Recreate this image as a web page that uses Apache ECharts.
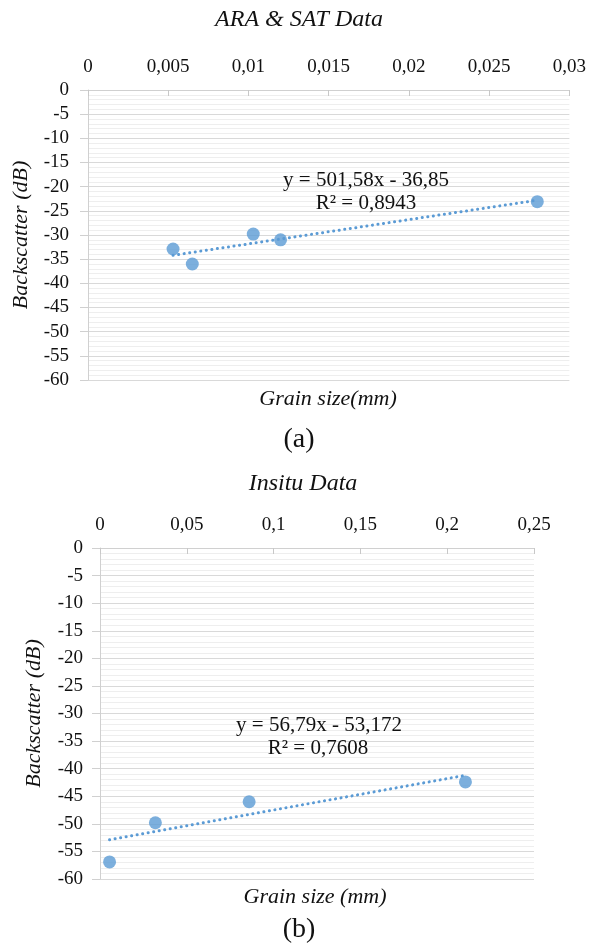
<!DOCTYPE html>
<html>
<head>
<meta charset="utf-8">
<script src="https://cdn.jsdelivr.net/npm/echarts@6/dist/echarts.min.js"></script>
<style>
html,body{margin:0;padding:0;background:#fff;}
#c{width:589px;height:947px;}
</style>
</head>
<body>
<div id="c"></div>
<script>
// ---- Data ----
const topTitle = 'ARA & SAT Data';
const botTitle = 'Insitu Data';
const topGrain = [0.0053, 0.0065, 0.0103, 0.0120, 0.0280];
const topBackscatter = [-32.9, -36.0, -29.8, -31.0, -23.1];
const topTrendX = [0.0053, 0.0280];
const topTrendY = [-34.2, -22.8];
const topEquation = ['y = 501,58x - 36,85', 'R² = 0,8943'];

const botGrain = [0.0055, 0.0319, 0.0859, 0.2105];
const botBackscatter = [-56.9, -49.8, -46.0, -42.4];
const botTrendX = [0.0055, 0.2105];
const botTrendY = [-52.9, -41.2];
const botEquation = ['y = 56,79x - 53,172', 'R² = 0,7608'];

const topXTicks = {min: 0, max: 0.03, interval: 0.005};
const botXTicks = {min: 0, max: 0.25, interval: 0.05};
const yTicks = {min: -60, max: 0, interval: 5};

const serif = '"Liberation Serif", "Times New Roman", serif';
const blue = '#5B9BD5';
const txt = '#111';

function zip(a, b) { return a.map((v, i) => [v, b[i]]); }
function fmt(v) { return String(+v.toFixed(4)).replace('.', ','); }

function xAxis(gi, t) {
  return {
    type: 'value', gridIndex: gi, position: 'top',
    min: t.min, max: t.max, interval: t.interval,
    axisLine: {show: true, onZero: false, lineStyle: {color: '#d0d0d0', width: 1}},
    axisTick: {show: true, inside: true, length: 6, lineStyle: {color: '#c8c8c8'}},
    axisLabel: {formatter: fmt, fontFamily: serif, fontSize: 19, color: txt, margin: 13},
    splitLine: {show: false}
  };
}
function yAxis(gi, gap, margin) {
  return {
    type: 'value', gridIndex: gi,
    min: yTicks.min, max: yTicks.max, interval: yTicks.interval,
    name: 'Backscatter (dB)', nameLocation: 'middle', nameRotate: 90, nameGap: gap,
    nameTextStyle: {fontFamily: serif, fontStyle: 'italic', fontSize: 22, color: txt},
    axisLine: {show: true, onZero: false, lineStyle: {color: '#d0d0d0', width: 1}},
    axisTick: {show: true, inside: false, length: 8, lineStyle: {color: '#d0d0d0'}},
    axisLabel: {fontFamily: serif, fontSize: 19, color: txt, margin: margin},
    splitLine: {show: true, lineStyle: {color: '#d9d9d9', width: 1}},
    minorTick: {show: false, splitNumber: 5},
    minorSplitLine: {show: true, lineStyle: {color: '#eeeeee', width: 1}}
  };
}
function label(x, y, text, font) {
  return {type: 'text', x: x, y: y, z: 100,
    style: {text: text, font: font, fill: txt, textAlign: 'center', textVerticalAlign: 'middle'}};
}

const chart = echarts.init(document.getElementById('c'), null, {renderer: 'canvas'});
chart.setOption({
  backgroundColor: '#fff',
  animation: false,
  grid: [
    {left: 88, top: 90, width: 483, height: 290},
    {left: 100, top: 548, width: 434, height: 331}
  ],
  xAxis: [xAxis(0, topXTicks), xAxis(1, botXTicks)],
  yAxis: [yAxis(0, 56, 19), yAxis(1, 55, 17)],
  graphic: [
    label(299, 20, topTitle, 'italic 24px ' + serif),
    label(328, 399, 'Grain size(mm)', 'italic 22px ' + serif),
    label(299, 440, '(a)', '28px ' + serif),
    label(303, 484, botTitle, 'italic 24px ' + serif),
    label(315, 897, 'Grain size (mm)', 'italic 22px ' + serif),
    label(299, 930, '(b)', '28px ' + serif),
    label(366, 180, topEquation[0], '21px ' + serif),
    label(366, 203, topEquation[1], '21px ' + serif),
    label(319, 725, botEquation[0], '21px ' + serif),
    label(318, 748, botEquation[1], '21px ' + serif)
  ],
  series: [
    {type: 'line', xAxisIndex: 0, yAxisIndex: 0, data: zip(topTrendX, topTrendY), showSymbol: false, symbol: 'none',
     lineStyle: {color: blue, width: 3, type: [0.1, 5.5], cap: 'round'}, z: 2},
    {type: 'scatter', xAxisIndex: 0, yAxisIndex: 0, data: zip(topGrain, topBackscatter), symbolSize: 13,
     itemStyle: {color: blue}, z: 3},
    {type: 'line', xAxisIndex: 1, yAxisIndex: 1, data: zip(botTrendX, botTrendY), showSymbol: false, symbol: 'none',
     lineStyle: {color: blue, width: 3, type: [0.1, 5.5], cap: 'round'}, z: 2},
    {type: 'scatter', xAxisIndex: 1, yAxisIndex: 1, data: zip(botGrain, botBackscatter), symbolSize: 13,
     itemStyle: {color: blue}, z: 3}
  ]
});
</script>
</body>
</html>
